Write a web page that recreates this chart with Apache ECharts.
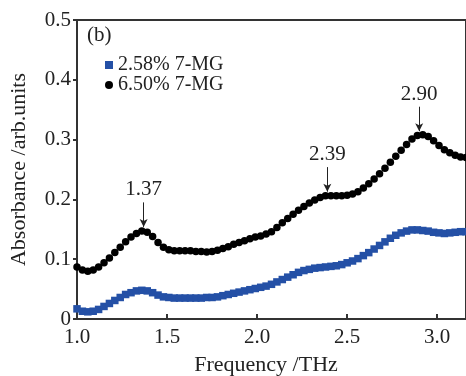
<!DOCTYPE html>
<html><head><meta charset="utf-8">
<script src="https://cdn.jsdelivr.net/npm/echarts@6/dist/echarts.min.js"></script>
<style>html,body{margin:0;padding:0;background:#fff}#c{width:466px;height:376px}</style>
</head><body><div id="c"></div>
<script>
const freq = [1.00,1.03,1.06,1.09,1.12,1.15,1.18,1.21,1.24,1.27,1.30,1.33,1.36,1.39,1.42,1.45,1.48,1.51,1.54,1.57,1.60,1.63,1.66,1.69,1.72,1.75,1.78,1.81,1.84,1.87,1.90,1.93,1.96,1.99,2.02,2.05,2.08,2.11,2.14,2.17,2.20,2.23,2.26,2.29,2.32,2.35,2.38,2.41,2.44,2.47,2.50,2.53,2.56,2.59,2.62,2.65,2.68,2.71,2.74,2.77,2.80,2.83,2.86,2.89,2.92,2.95,2.98,3.01,3.04,3.07,3.10,3.13,3.16];
const mg258 = [0.017,0.013,0.012,0.013,0.016,0.021,0.026,0.031,0.036,0.041,0.044,0.047,0.048,0.047,0.044,0.040,0.037,0.036,0.035,0.035,0.035,0.035,0.035,0.035,0.036,0.036,0.037,0.039,0.041,0.043,0.045,0.047,0.049,0.051,0.053,0.055,0.058,0.062,0.066,0.070,0.074,0.078,0.081,0.083,0.085,0.086,0.087,0.088,0.089,0.091,0.094,0.097,0.101,0.106,0.111,0.117,0.123,0.129,0.135,0.140,0.144,0.147,0.149,0.149,0.148,0.147,0.145,0.144,0.143,0.144,0.145,0.146,0.146];
const mg650 = [0.087,0.082,0.080,0.082,0.087,0.094,0.102,0.111,0.120,0.129,0.137,0.143,0.147,0.145,0.138,0.128,0.120,0.116,0.114,0.114,0.114,0.114,0.113,0.113,0.112,0.113,0.115,0.118,0.121,0.125,0.128,0.131,0.134,0.137,0.139,0.142,0.146,0.153,0.161,0.168,0.175,0.182,0.188,0.194,0.199,0.203,0.206,0.206,0.206,0.206,0.207,0.209,0.213,0.219,0.226,0.234,0.243,0.252,0.262,0.272,0.282,0.292,0.301,0.307,0.308,0.305,0.298,0.290,0.283,0.278,0.274,0.271,0.270];
const seriesNames = ['2.58% 7-MG','6.50% 7-MG'];
const peakFreqs = [1.37, 2.39, 2.90];
const peakLabels = ['1.37','2.39','2.90'];
const xTicks = [1.0,1.5,2.0,2.5,3.0];

const FONT = 'Liberation Serif';
function valueAt(f){
  let best=0; for(let i=0;i<freq.length;i++){ if(Math.abs(freq[i]-f)<Math.abs(freq[best]-f)) best=i; }
  return mg650[best];
}
const arrows = peakFreqs.map((f,i)=>{
  const v = valueAt(f);
  return [
    {coord:[f, v+0.048], label:{formatter:peakLabels[i]}},
    {coord:[f, v+0.007]}
  ];
});

const chart = echarts.init(document.getElementById('c'), null, {renderer:'canvas'});
chart.setOption({
  animation:false,
  backgroundColor:'#fff',
  grid:{left:77, top:20, bottom:57, right:-3, show:true, borderColor:'#333', borderWidth:2, backgroundColor:'transparent'},
  legend:{
    left:100, top:50, orient:'vertical', itemGap:0, itemWidth:8, itemHeight:8,
    textStyle:{fontFamily:FONT, fontSize:20, color:'#222', lineHeight:19},
    data:[{name:seriesNames[0], icon:'rect'},{name:seriesNames[1], icon:'circle'}]
  },
  xAxis:{
    type:'value', min:1.0, max:3.16,
    axisLine:{lineStyle:{color:'#333', width:2}},
    axisTick:{inside:true, length:5, lineStyle:{color:'#333', width:2}, customValues:xTicks},
    axisLabel:{customValues:xTicks, formatter:v=>v.toFixed(1), fontFamily:FONT, fontSize:21, color:'#222', margin:8},
    splitLine:{show:false}
  },
  yAxis:{
    type:'value', min:0, max:0.5, interval:0.1,
    name:'Absorbance /arb.units', nameLocation:'middle', nameGap:47,
    nameTextStyle:{fontFamily:FONT, fontSize:22, color:'#222'},
    axisLine:{show:true, lineStyle:{color:'#333', width:2}},
    axisTick:{show:true, inside:false, length:4, lineStyle:{color:'#333', width:2}},
    axisLabel:{formatter:v=>v===0?'0':v.toFixed(1), fontFamily:FONT, fontSize:21, color:'#222', margin:6},
    splitLine:{show:false}
  },
  graphic:[
    {type:'text', x:266, y:354, style:{text:'Frequency /THz', font:'22px "Liberation Serif"', fill:'#222', textAlign:'center'}},
    {type:'text', left:87, top:25, style:{text:'(b)', font:'21px "Liberation Serif"', fill:'#222'}}
  ],
  series:[
    {name:seriesNames[0], type:'scatter', symbol:'rect', symbolSize:7.5,
     itemStyle:{color:'#2450a6', opacity:1}, data:freq.map((f,i)=>[f,mg258[i]]), z:2},
    {name:seriesNames[1], type:'scatter', symbol:'circle', symbolSize:7.5,
     itemStyle:{color:'#000', opacity:1}, data:freq.map((f,i)=>[f,mg650[i]]), z:3,
     markLine:{
       silent:true, symbol:['none','arrow'], symbolSize:[6,8], precision:3,
       lineStyle:{color:'#222', width:1, type:'solid'},
       label:{show:true, position:'start', distance:2, fontFamily:FONT, fontSize:21, color:'#222'},
       data:arrows
     }}
  ]
});
</script></body></html>
